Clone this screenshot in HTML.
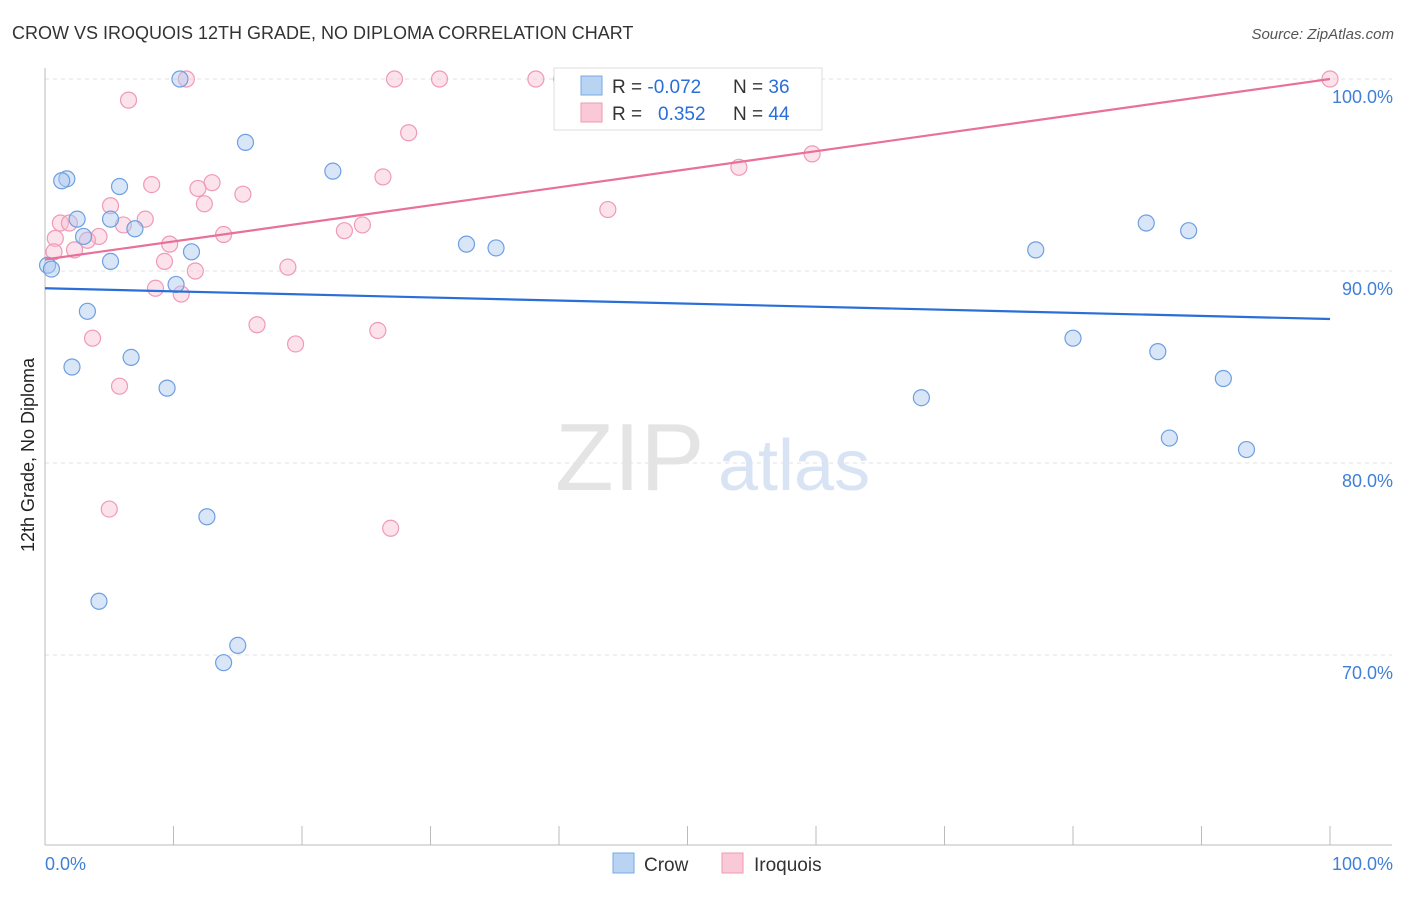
<!DOCTYPE html>
<html><head><meta charset="utf-8"><style>
body{margin:0;background:#fff;font-family:"Liberation Sans",sans-serif;}
svg text{font-family:"Liberation Sans",sans-serif;}
</style></head><body>
<svg id="chart" width="1406" height="892">
<text x="12" y="39" font-size="18" fill="#333">CROW VS IROQUOIS 12TH GRADE, NO DIPLOMA CORRELATION CHART</text>
<text x="1394" y="39" font-size="15" fill="#555" text-anchor="end" font-style="italic">Source: ZipAtlas.com</text>
<g id="grid"></g>
<text x="555" y="490" font-size="96" fill="#e4e4e4" font-family="Liberation Serif">ZIP</text>
<text x="718" y="490" font-size="72" fill="#d8e4f4">atlas</text>
<text transform="translate(34,455) rotate(-90)" font-size="18" fill="#222" text-anchor="middle">12th Grade, No Diploma</text>
<g id="pts"></g>
<g id="lines"></g>
<g>
<rect x="554" y="68" width="268" height="62" fill="#fff" stroke="#ddd"/>
<rect x="581" y="76" width="21" height="19" fill="#b9d3f3" stroke="#7aa8e6"/>
<rect x="581" y="103" width="21" height="19" fill="#f9c9d8" stroke="#ef9ab6"/>
<text x="612" y="93" font-size="19" fill="#333">R = <tspan fill="#2a6ed8">-0.072</tspan></text>
<text x="733" y="93" font-size="19" fill="#333">N = <tspan fill="#2a6ed8">36</tspan></text>
<text x="612" y="120" font-size="19" fill="#333">R = <tspan fill="#2a6ed8" x="658">0.352</tspan></text>
<text x="733" y="120" font-size="19" fill="#333">N = <tspan fill="#2a6ed8">44</tspan></text>
</g>
<g>
<rect x="613" y="853" width="21" height="20" fill="#b9d3f3" stroke="#7aa8e6"/>
<text x="644" y="871" font-size="19" fill="#333">Crow</text>
<rect x="722" y="853" width="21" height="20" fill="#f9c9d8" stroke="#ef9ab6"/>
<text x="754" y="871" font-size="19" fill="#333">Iroquois</text>
</g>
</svg>
<script>
const yTicks=[100,90,80,70];
const yTickLabels=["100.0%","90.0%","80.0%","70.0%"];
const crowX=[10.5,40.2,56.4,15.6,1.7,1.3,5.8,22.4,2.5,5.1,7.0,3.0,32.8,35.1,11.4,5.1,0.2,0.5,10.2,3.3,6.7,2.1,9.5,12.6,4.2,15.0,13.9,77.1,85.7,89.0,80.0,86.6,68.2,91.7,87.5,93.5];
const crowY=[100,100,100,96.7,94.8,94.7,94.4,95.2,92.7,92.7,92.2,91.8,91.4,91.2,91.0,90.5,90.3,90.1,89.3,87.9,85.5,85.0,83.9,77.2,72.8,70.5,69.6,91.1,92.5,92.1,86.5,85.8,83.4,84.4,81.3,80.7];
const iroX=[11.0,27.2,30.7,38.2,100,6.5,28.3,59.7,54.0,26.3,8.3,13.0,11.9,15.4,12.4,5.1,43.8,7.8,1.2,1.9,6.1,24.7,23.3,13.9,4.2,0.8,3.3,9.7,2.3,0.7,9.3,18.9,11.7,8.6,10.6,16.5,25.9,3.7,19.5,5.8,5.0,26.9];
const iroY=[100,100,100,100,100,98.9,97.2,96.1,95.4,94.9,94.5,94.6,94.3,94.0,93.5,93.4,93.2,92.7,92.5,92.5,92.4,92.4,92.1,91.9,91.8,91.7,91.6,91.4,91.1,91.0,90.5,90.2,90.0,89.1,88.8,87.2,86.9,86.5,86.2,84.0,77.6,76.6];
const crowTrend=[89.1,87.5];
const iroTrend=[90.6,100];
const X=v=>45+v*12.85, Y=v=>79+(100-v)*19.2;
const NS="http://www.w3.org/2000/svg";
function mk(t,a,p){const e=document.createElementNS(NS,t);for(const k in a)e.setAttribute(k,a[k]);p.appendChild(e);return e;}
const grid=document.getElementById('grid');
yTicks.forEach((t,i)=>{
 const l=mk('line',{x1:45,x2:1392,y1:Y(t),y2:Y(t),stroke:'#e2e2e2','stroke-dasharray':'4,4'},grid);
 
 
 const tx=mk('text',{x:1393,y:Y(t)+24,'font-size':18,fill:'#3f7fd8','text-anchor':'end'},grid);tx.textContent=yTickLabels[i];
 
 
});
const ax=mk('line',{x1:45,x2:45,y1:68,y2:845,stroke:'#bbb'},grid);


const bx=mk('line',{x1:45,x2:1392,y1:845,y2:845,stroke:'#bbb'},grid);


for(let i=0;i<=10;i++){const t=mk('line',{x1:X(i*10),x2:X(i*10),y1:826,y2:845,stroke:'#bbb'},grid);
 
 }
const l0=mk('text',{x:45,y:870,'font-size':18,fill:'#3f7fd8'},grid);l0.textContent='0.0%';


const l1=mk('text',{x:1393,y:870,'font-size':18,fill:'#3f7fd8','text-anchor':'end'},grid);l1.textContent='100.0%';


const pts=document.getElementById('pts');
iroX.forEach((x,i)=>{const c=mk('circle',{cx:X(x),cy:Y(iroY[i]),r:8,fill:'rgba(249,190,210,0.45)',stroke:'#ef9ab6','stroke-width':1.2},pts);
 
 });
crowX.forEach((x,i)=>{const c=mk('circle',{cx:X(x),cy:Y(crowY[i]),r:8,fill:'rgba(170,200,240,0.45)',stroke:'#6e9fe0','stroke-width':1.2},pts);
 
 });
const lines=document.getElementById('lines');
const tb=mk('line',{x1:X(0),y1:Y(crowTrend[0]),x2:X(100),y2:Y(crowTrend[1]),stroke:'#2a6ed8','stroke-width':2.2},lines);


const tp=mk('line',{x1:X(0),y1:Y(iroTrend[0]),x2:X(100),y2:Y(iroTrend[1]),stroke:'#e8709a','stroke-width':2.2},lines);


</script>
</body></html>
